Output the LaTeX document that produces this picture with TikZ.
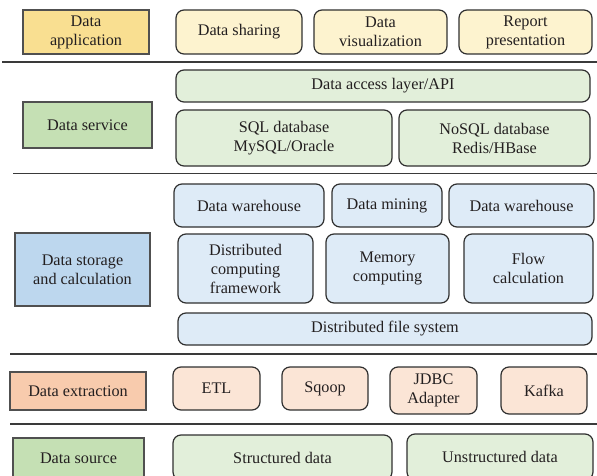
\documentclass[tikz,border=0pt]{standalone}
\usepackage{fontspec}
\setmainfont{Liberation Serif}
\definecolor{txt}{HTML}{231F20}
\definecolor{rule}{HTML}{3A3A3A}
\definecolor{edge}{HTML}{303030}
\definecolor{tagedge}{HTML}{505050}
\definecolor{appTag}{HTML}{F9DF91}
\definecolor{appItem}{HTML}{FDF3CF}
\definecolor{greenTag}{HTML}{C5E0B4}
\definecolor{greenItem}{HTML}{E2EFDA}
\definecolor{blueTag}{HTML}{BDD7EE}
\definecolor{blueItem}{HTML}{DEEBF7}
\definecolor{orangeTag}{HTML}{F8CBAD}
\definecolor{orangeItem}{HTML}{FBE5D6}
\tikzset{
  base/.style={inner sep=0pt, outer sep=0pt, align=center, text=txt,
    font=\fontsize{16.2}{19}\selectfont},
  tag/.style={base, draw=tagedge, line width=2pt},
  item/.style={base, draw=edge, line width=1.2pt, rounded corners=8pt},
  sep/.style={draw=rule, line width=1.3pt},
}
\begin{document}
\begin{tikzpicture}[x=1pt,y=-1pt]
\useasboundingbox (0,0) rectangle (597,476);

% horizontal separators between the layers
\draw[sep] (2,62) -- (597,62);
\draw[sep] (13,173.5) -- (597,173.5);
\draw[sep] (10,354) -- (597,354);
\draw[sep] (10,424) -- (597,424);

% application layer
\node[tag, fill=appTag, minimum width=126pt, minimum height=44pt] (app) at (86,32) {Data\\application};
\node[item, fill=appItem, minimum width=126pt, minimum height=44pt] (share) at (239,32) {Data sharing};
\node[item, fill=appItem, minimum width=133pt, minimum height=44pt] (vis) at (380.5,32) {Data\\visualization};
\node[item, fill=appItem, minimum width=133pt, minimum height=44pt] (rep) at (525.5,32) {Report\\presentation};

% service layer
\node[tag, fill=greenTag, minimum width=129pt, minimum height=46pt] (svc) at (87.5,125) {Data service};
\node[item, fill=greenItem, minimum width=414pt, minimum height=32pt] (api) at (383,86) {Data access layer/API};
\node[item, fill=greenItem, minimum width=216pt, minimum height=56pt] (sql) at (284,138) {SQL database\\MySQL/Oracle};
\node[item, fill=greenItem, minimum width=191pt, minimum height=56pt] (nosql) at (494.5,138) {NoSQL database\\Redis/HBase};

% storage and calculation layer
\node[tag, fill=blueTag, minimum width=135pt, minimum height=73pt] (stor) at (82.5,269.5) {Data storage\\and calculation};
\node[item, fill=blueItem, minimum width=150pt, minimum height=43pt] (dwa) at (249,205.5) {Data warehouse};
\node[item, fill=blueItem, minimum width=110pt, minimum height=43pt] (dm) at (387,205.5) {Data mining};
\node[item, fill=blueItem, minimum width=145pt, minimum height=43pt] (dwb) at (521.5,205.5) {Data warehouse};
\node[item, fill=blueItem, minimum width=135pt, minimum height=69pt] (dcf) at (245.5,268.5) {Distributed\\computing\\framework};
\node[item, fill=blueItem, minimum width=123pt, minimum height=69pt] (mem) at (387.5,268.5) {Memory\\computing};
\node[item, fill=blueItem, minimum width=129pt, minimum height=69pt] (flow) at (528.5,268.5) {Flow\\calculation};
\node[item, fill=blueItem, minimum width=414pt, minimum height=32pt] (dfs) at (385,329) {Distributed file system};

% extraction layer
\node[tag, fill=orangeTag, minimum width=136pt, minimum height=38pt] (ext) at (78,391) {Data extraction};
\node[item, fill=orangeItem, minimum width=87pt, minimum height=43pt] (etl) at (216.5,388.5) {ETL};
\node[item, fill=orangeItem, minimum width=86pt, minimum height=43pt] (sqoop) at (325,388.5) {Sqoop};
\node[item, fill=orangeItem, minimum width=87pt, minimum height=47pt] (jdbc) at (433.5,390.5) {JDBC\\Adapter};
\node[item, fill=orangeItem, minimum width=86pt, minimum height=47pt] (kafka) at (544,390.5) {Kafka};

% source layer (runs past the lower edge)
\node[tag, fill=greenTag, minimum width=131pt, minimum height=40pt] (src) at (78.5,458) {Data source};
\node[item, fill=greenItem, minimum width=219pt, minimum height=45pt] (struct) at (282.5,457.5) {Structured data};
\node[item, fill=greenItem, minimum width=186pt, minimum height=46pt] (unstruct) at (500,457) {Unstructured data};
\end{tikzpicture}
\end{document}
